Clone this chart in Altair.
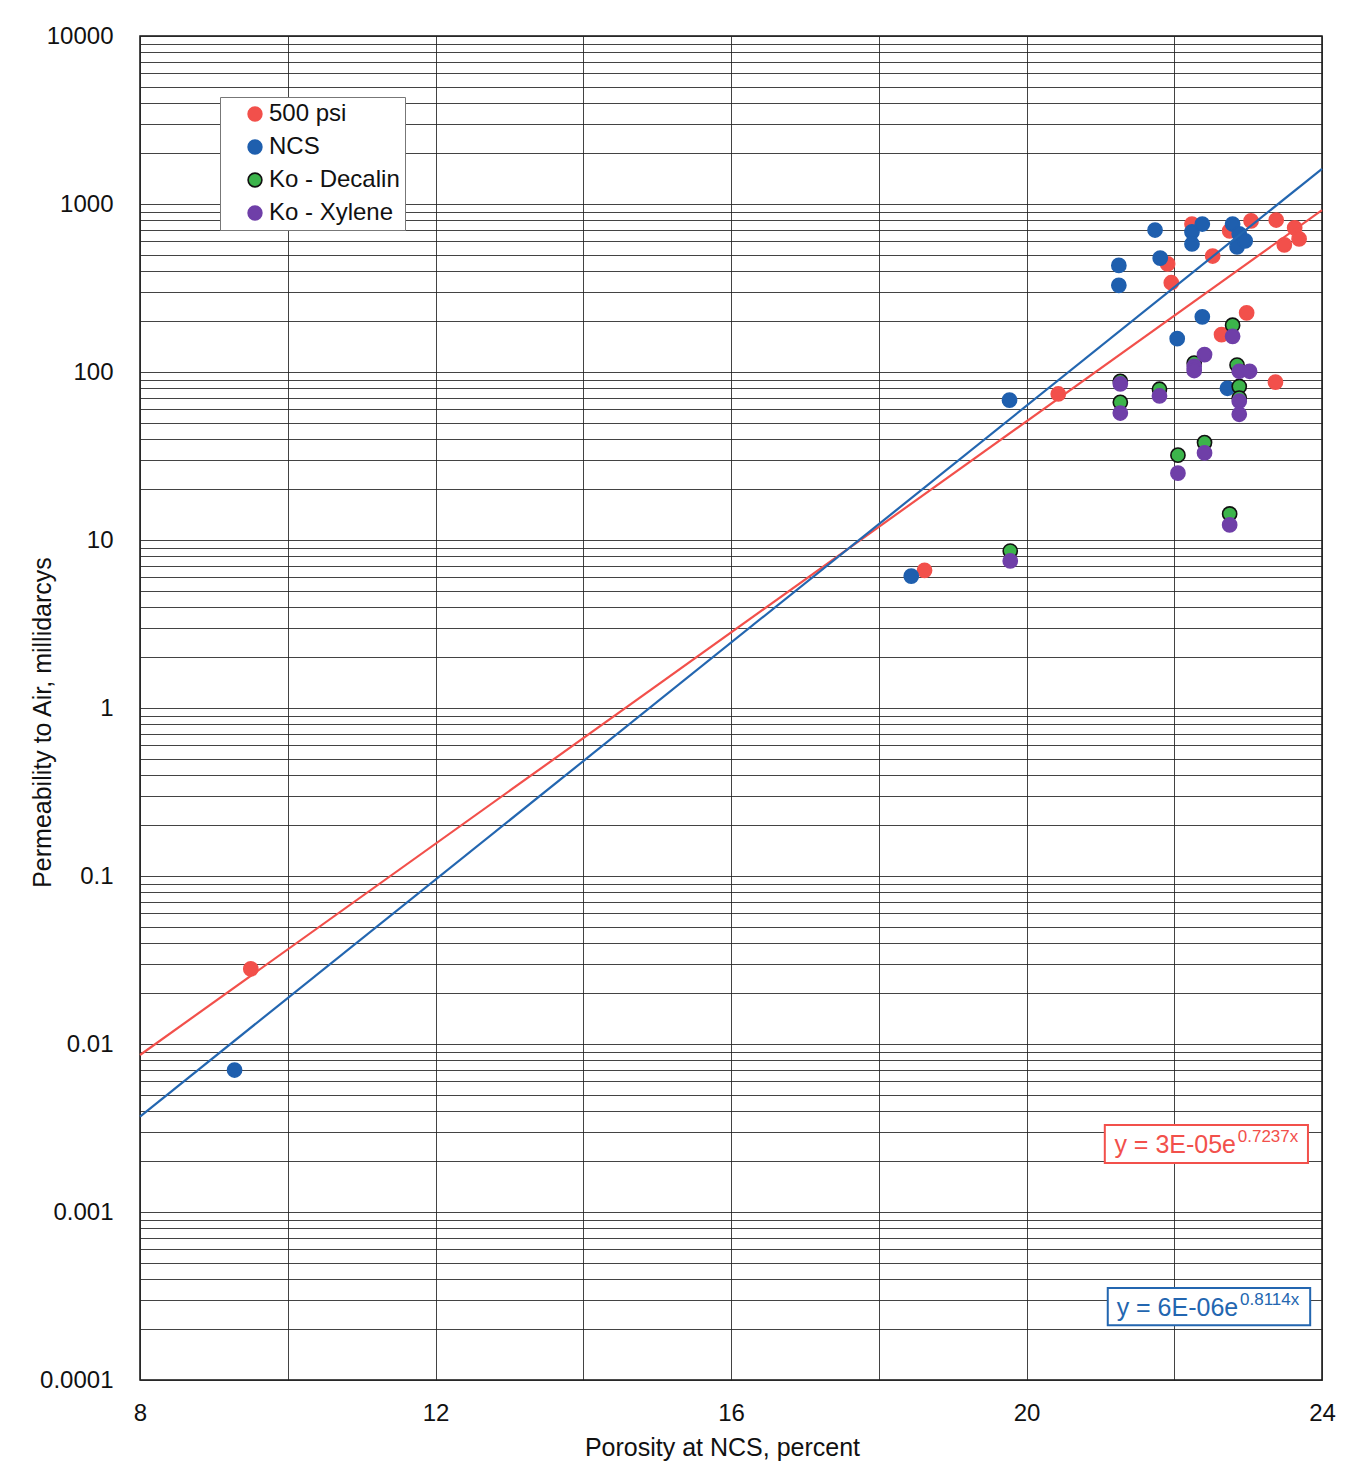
import altair as alt
import pandas as pd

# ---------------- data ----------------
series_names = ["500 psi", "NCS", "Ko - Decalin", "Ko - Xylene"]
fill_colors = ["#f2504b", "#1f5fae", "#3cb44b", "#6f3fa8"]
stroke_colors = ["#f2504b", "#1f5fae", "#111111", "#6f3fa8"]

psi500_x = [9.50, 18.62, 20.43, 21.91, 21.96, 22.24, 22.52, 22.64, 22.98, 23.37, 23.04, 23.38, 23.63, 23.69, 23.49, 22.75]
psi500_y = [0.028, 6.6, 74, 440, 340, 760, 490, 167, 225, 87, 793, 803, 721, 620, 571, 692]

ncs_x = [9.28, 18.44, 19.77, 21.25, 21.25, 21.74, 21.81, 22.24, 22.24, 22.38, 22.79, 22.88, 22.85, 22.96, 22.38, 22.04, 22.72]
ncs_y = [0.0070, 6.1, 68, 431, 328, 700, 476, 682, 578, 760, 760, 664, 556, 603, 213, 158, 80]

decalin_x = [22.79, 22.27, 22.85, 21.27, 21.27, 21.80, 22.88, 22.88, 22.41, 22.05, 22.75, 19.78]
decalin_y = [190, 113, 110, 88, 66, 79, 82, 70, 38, 32, 14.3, 8.6]

xylene_x = [22.79, 22.41, 22.27, 22.27, 22.88, 23.02, 21.27, 21.27, 21.80, 22.88, 22.88, 22.41, 22.05, 22.75, 19.78]
xylene_y = [163, 127, 108, 102, 101, 101, 85, 57, 72, 67, 56, 33, 25, 12.3, 7.5]

# trend lines (end points, x = 8 and x = 24)
fit_x = [8, 24]
fit_red_y = [0.0086, 920]
fit_blue_y = [0.0037, 1620]

x_grid_values = [8, 10, 12, 14, 16, 18, 20, 22, 24]
y_grid_values = [m * 10.0 ** e for e in range(-4, 4) for m in range(1, 10)] + [10000.0]

eq_red_main = "y = 3E-05e"
eq_red_sup = "0.7237x"
eq_blue_main = "y = 6E-06e"
eq_blue_sup = "0.8114x"

RED = "#f2504b"
BLUE = "#2366b0"

# ---------------- tables ----------------
rows = []
for name, xs, ys in [
    (series_names[0], psi500_x, psi500_y),
    (series_names[1], ncs_x, ncs_y),
    (series_names[2], decalin_x, decalin_y),
    (series_names[3], xylene_x, xylene_y),
]:
    for a, b in zip(xs, ys):
        rows.append({"series": name, "x": a, "y": b})
pts = pd.DataFrame(rows)

red_line = pd.DataFrame({"x": fit_x, "y": fit_red_y})
blue_line = pd.DataFrame({"x": fit_x, "y": fit_blue_y})

red_box = pd.DataFrame({"x1": [21.06], "x2": [23.81], "y1": [0.0033], "y2": [0.00196]})
blue_box = pd.DataFrame({"x1": [21.10], "x2": [23.84], "y1": [0.000353], "y2": [0.000212]})
red_main = pd.DataFrame({"x": [21.19], "y": [0.0025], "t": [eq_red_main]})
red_sup = pd.DataFrame({"x": [22.86], "y": [0.00278], "t": [eq_red_sup]})
blue_main = pd.DataFrame({"x": [21.22], "y": [0.000268], "t": [eq_blue_main]})
blue_sup = pd.DataFrame({"x": [22.89], "y": [0.000298], "t": [eq_blue_sup]})

FONT = "Liberation Sans"

xscale = alt.Scale(domain=[8, 24], nice=False, zero=False)
yscale = alt.Scale(type="log", domain=[0.0001, 10000], nice=False)

xaxis = alt.Axis(
    values=x_grid_values,
    format="d",
    labelExpr="datum.value % 4 == 0 ? datum.label : ''",
    labelFlush=False,
    title="Porosity at NCS, percent",
    grid=True, ticks=False, domain=False,
    labelPadding=21, titleX=582, titleY=67, titleBaseline="middle",
)
yaxis = alt.Axis(
    values=y_grid_values,
    format="~f",
    labelExpr="abs(log(datum.value)/LN10 - round(log(datum.value)/LN10)) < 1e-6 ? datum.label : ''",
    labelFlush=False,
    title="Permeability to Air, millidarcys",
    grid=True, ticks=False, domain=False,
    labelPadding=27, titleX=-98, titleY=686, titleAngle=270, titleBaseline="middle",
)

points = alt.Chart(pts).mark_circle(size=200, opacity=1, strokeWidth=1.6).encode(
    x=alt.X("x:Q", scale=xscale, axis=xaxis),
    y=alt.Y("y:Q", scale=yscale, axis=yaxis),
    fill=alt.Fill("series:N", sort=series_names,
                  scale=alt.Scale(domain=series_names, range=fill_colors),
                  legend=alt.Legend(title=None)),
    stroke=alt.Stroke("series:N", sort=series_names,
                      scale=alt.Scale(domain=series_names, range=stroke_colors),
                      legend=alt.Legend(title=None)),
)

def fit_layer(df, color):
    return alt.Chart(df).mark_line(color=color, strokeWidth=2.2).encode(x="x:Q", y="y:Q")

def box_layer(df, color):
    return alt.Chart(df).mark_rect(fill="white", stroke=color, strokeWidth=2).encode(
        x="x1:Q", x2="x2:Q", y="y1:Q", y2="y2:Q")

def text_layer(df, color, size):
    return alt.Chart(df).mark_text(align="left", baseline="middle", fontSize=size,
                                   font=FONT, color=color).encode(x="x:Q", y="y:Q", text="t:N")

chart = alt.layer(
    points,
    fit_layer(red_line, RED), fit_layer(blue_line, BLUE),
    box_layer(red_box, RED), box_layer(blue_box, BLUE),
    text_layer(red_main, RED, 25), text_layer(red_sup, RED, 17),
    text_layer(blue_main, BLUE, 25), text_layer(blue_sup, BLUE, 17),
).properties(
    width=1182, height=1344,
    autosize=alt.AutoSizeParams(type="none"),
    padding={"left": 140, "top": 36, "right": 40, "bottom": 104},
).configure(
    background="white",
).configure_view(
    stroke="#111111", strokeWidth=1.5,
).configure_axis(
    labelFont=FONT, titleFont=FONT, labelFontSize=24, titleFontSize=25,
    labelColor="#111111", titleColor="#111111", titleFontWeight="normal",
    gridColor="#222222", gridWidth=1, gridOpacity=0.85,
).configure_legend(
    orient="none", legendX=80, legendY=61,
    labelFont=FONT, labelFontSize=24, labelColor="#111111",
    symbolType="circle", symbolSize=190, symbolStrokeWidth=1.6,
    padding=5, symbolOffset=18, labelOffset=2, rowPadding=9,
    strokeColor="#777777", fillColor="white",
)

chart.save("out.html", embed_options={"renderer": "svg", "actions": False})
